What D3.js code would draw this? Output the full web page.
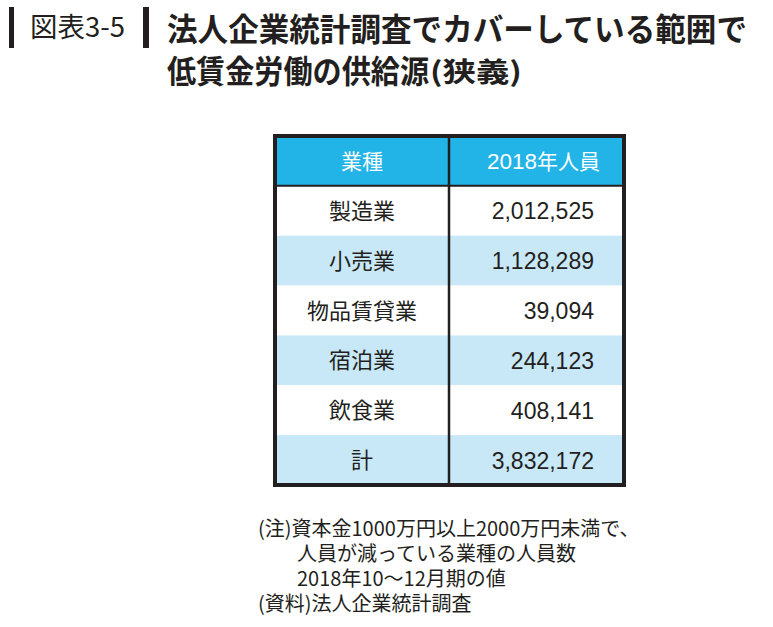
<!DOCTYPE html>
<html>
<head>
<meta charset="utf-8">
<script src="https://cdn.jsdelivr.net/npm/d3@7"></script>
<style>
  body { margin: 0; background: #fff; }
  text { font-family: "Noto Sans CJK JP", "Noto Sans", sans-serif; }
  .num { font-family: "Liberation Sans", Arial, sans-serif; }
</style>
</head>
<body>
<div id="chart"></div>
<script>
// table contents
var headers = ["業種", "2018年人員"];
var categories = ["製造業", "小売業", "物品賃貸業", "宿泊業", "飲食業", "計"];
var values = [2012525, 1128289, 39094, 244123, 408141, 3832172];
var notes = [
  "(注)資本金1000万円以上2000万円未満で、",
  "人員が減っている業種の人員数",
  "2018年10～12月期の値",
  "(資料)法人企業統計調査"
];

var W = 773, H = 627;
var ink = "#231f20";

var svg = d3.select("#chart").append("svg")
  .attr("width", W).attr("height", H);

// title block
svg.append("rect").attr("x", 9).attr("y", 7).attr("width", 5).attr("height", 41).attr("fill", ink);
svg.append("rect").attr("x", 143).attr("y", 7).attr("width", 6).attr("height", 41).attr("fill", ink);
svg.append("text").attr("x", 30).attr("y", 37)
  .attr("font-size", 27).attr("fill", ink)
  .attr("textLength", 95).attr("lengthAdjust", "spacingAndGlyphs")
  .text("図表3-5");
svg.append("text").attr("x", 167).attr("y", 41)
  .attr("font-size", 32).attr("font-weight", "bold").attr("fill", ink)
  .attr("textLength", 580).attr("lengthAdjust", "spacingAndGlyphs")
  .text("法人企業統計調査でカバーしている範囲で");
svg.append("text").attr("x", 167).attr("y", 83)
  .attr("font-size", 32).attr("font-weight", "bold").attr("fill", ink)
  .attr("textLength", 262).attr("lengthAdjust", "spacingAndGlyphs")
  .text("低賃金労働の供給源");
svg.append("text").attr("x", 430).attr("y", 82)
  .attr("font-size", 27).attr("font-weight", "bold").attr("fill", ink)
  .attr("textLength", 92).attr("lengthAdjust", "spacingAndGlyphs")
  .text("(狭義)");

// table
var tblLeft = 275, tblRight = 624, tblMid = 449, tblTop = 136, tblBottom = 485;
var rows = d3.scaleBand()
  .domain(d3.range(categories.length + 1))
  .range([tblTop, tblBottom]);
var fmt = d3.format(",");

var g = svg.append("g");
g.selectAll("rect.row")
  .data(d3.range(categories.length + 1))
  .enter().append("rect")
    .attr("class", "row")
    .attr("x", tblLeft).attr("width", tblRight - tblLeft)
    .attr("y", function(d) { return rows(d); })
    .attr("height", rows.bandwidth())
    .attr("fill", function(d) {
      if (d === 0) return "#22b4e7";
      return d % 2 === 0 ? "#c8e8f7" : "#ffffff";
    });

// header text
g.append("text").attr("x", (tblLeft + tblMid) / 2).attr("y", rows(0) + rows.bandwidth() / 2 + 8)
  .attr("text-anchor", "middle").attr("font-size", 21).attr("fill", "#fff")
  .text(headers[0]);
var h2 = g.append("text").attr("x", (tblMid + tblRight) / 2 + 7).attr("y", rows(0) + rows.bandwidth() / 2 + 8)
  .attr("text-anchor", "middle").attr("font-size", 21).attr("fill", "#fff");
h2.append("tspan").attr("class", "num").attr("font-size", 22.5).text(headers[1].slice(0, 4));
h2.append("tspan").text(headers[1].slice(4));

g.selectAll("text.cat")
  .data(categories)
  .enter().append("text")
    .attr("class", "cat")
    .attr("x", (tblLeft + tblMid) / 2)
    .attr("y", function(d, i) { return rows(i + 1) + rows.bandwidth() / 2 + 8; })
    .attr("text-anchor", "middle").attr("font-size", 22).attr("fill", ink)
    .text(function(d) { return d; });

g.selectAll("text.val")
  .data(values)
  .enter().append("text")
    .attr("class", "num val")
    .attr("x", 594)
    .attr("y", function(d, i) { return rows(i + 1) + rows.bandwidth() / 2 + 8.5; })
    .attr("text-anchor", "end").attr("font-size", 23).attr("fill", ink)
    .text(function(d) { return fmt(d); });

// grid lines
g.append("line").attr("x1", tblLeft).attr("x2", tblRight)
  .attr("y1", rows(1)).attr("y2", rows(1))
  .attr("stroke", ink).attr("stroke-width", 2);
g.append("line").attr("x1", tblMid).attr("x2", tblMid)
  .attr("y1", tblTop).attr("y2", tblBottom)
  .attr("stroke", ink).attr("stroke-width", 2.5);
g.append("rect").attr("x", tblLeft).attr("y", tblTop)
  .attr("width", tblRight - tblLeft).attr("height", tblBottom - tblTop)
  .attr("fill", "none").attr("stroke", ink).attr("stroke-width", 4);

// notes
var noteX = [258, 297, 297, 258];
svg.selectAll("text.note")
  .data(notes)
  .enter().append("text")
    .attr("class", "note")
    .attr("x", function(d, i) { return noteX[i]; })
    .attr("y", function(d, i) { return 536 + i * 25; })
    .attr("font-size", 20).attr("fill", ink)
    .text(function(d) { return d; });
</script>
</body>
</html>
